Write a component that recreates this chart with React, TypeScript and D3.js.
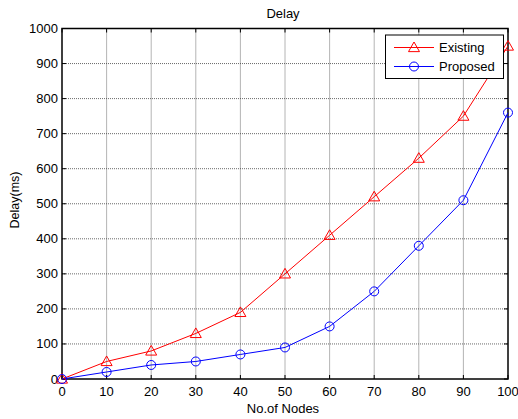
import { useEffect, useRef } from "react";
import * as d3 from "d3";

const nodes = [0, 10, 20, 30, 40, 50, 60, 70, 80, 90, 100];
const existing = [0, 50, 80, 130, 190, 300, 410, 520, 630, 750, 950];
const proposed = [0, 20, 40, 50, 70, 90, 150, 250, 380, 510, 760];
const yTicks = [0, 100, 200, 300, 400, 500, 600, 700, 800, 900, 1000];

export default function App() {
  const ref = useRef<SVGSVGElement>(null);
  const width = 518;
  const height = 419;
  const left = 62, right = 508, top = 28.5, bottom = 379;

  useEffect(() => {
    const svg = d3.select(ref.current);
    svg.selectAll("*").remove();
    const x = d3.scaleLinear().domain([0, 100]).range([left, right]);
    const y = d3.scaleLinear().domain([0, 1000]).range([bottom, top]);
    const font = "Arial, 'Liberation Sans', sans-serif";

    svg.append("rect").attr("width", width).attr("height", height).attr("fill", "#fff");

    // grid
    const grid = svg.append("g").attr("stroke", "#444").attr("stroke-width", 0.8).attr("stroke-dasharray", "1,1");
    nodes.slice(1, -1).forEach(v => {
      grid.append("line").attr("x1", x(v)).attr("x2", x(v)).attr("y1", top).attr("y2", bottom);
    });
    yTicks.slice(1, -1).forEach(v => {
      grid.append("line").attr("x1", left).attr("x2", right).attr("y1", y(v)).attr("y2", y(v));
    });

    // ticks inside, on all sides
    const ticks = svg.append("g").attr("stroke", "#000").attr("stroke-width", 1);
    nodes.forEach(v => {
      ticks.append("line").attr("x1", x(v)).attr("x2", x(v)).attr("y1", bottom).attr("y2", bottom - 4);
      ticks.append("line").attr("x1", x(v)).attr("x2", x(v)).attr("y1", top).attr("y2", top + 4);
    });
    yTicks.forEach(v => {
      ticks.append("line").attr("x1", left).attr("x2", left + 4).attr("y1", y(v)).attr("y2", y(v));
      ticks.append("line").attr("x1", right).attr("x2", right - 4).attr("y1", y(v)).attr("y2", y(v));
    });

    svg.append("rect").attr("x", left).attr("y", top).attr("width", right - left).attr("height", bottom - top)
      .attr("fill", "none").attr("stroke", "#000").attr("stroke-width", 1.5);

    // tick labels
    svg.append("g").selectAll("text").data(nodes).join("text")
      .attr("x", d => x(d)).attr("y", bottom + 17).attr("text-anchor", "middle")
      .attr("font-family", font).attr("font-size", 13).text(d => d);
    svg.append("g").selectAll("text").data(yTicks).join("text")
      .attr("x", left - 4).attr("y", d => y(d) + 4.5).attr("text-anchor", "end")
      .attr("font-family", font).attr("font-size", 13).text(d => d);

    svg.append("text").attr("x", 283).attr("y", 18).attr("text-anchor", "middle")
      .attr("font-family", font).attr("font-size", 13).text("Delay");
    svg.append("text").attr("x", 283).attr("y", 412.5).attr("text-anchor", "middle")
      .attr("font-family", font).attr("font-size", 13).text("No.of Nodes");
    svg.append("text").attr("transform", `translate(18.5, 200) rotate(-90)`)
      .attr("text-anchor", "middle").attr("font-family", font).attr("font-size", 12.5).text("Delay(ms)");

    const tri = (cx: number, cy: number) => {
      const s = 5.5;
      return `M${cx},${cy - s} L${cx + s},${cy + s * 0.75} L${cx - s},${cy + s * 0.75} Z`;
    };

    const line = d3.line<number>().x((_, i) => x(nodes[i])).y(d => y(d));
    svg.append("path").attr("d", line(existing)).attr("fill", "none").attr("stroke", "#f00").attr("stroke-width", 1);
    svg.append("path").attr("d", line(proposed)).attr("fill", "none").attr("stroke", "#00f").attr("stroke-width", 1);
    svg.append("g").selectAll("path").data(existing).join("path")
      .attr("d", (d, i) => tri(x(nodes[i]), y(d))).attr("fill", "none").attr("stroke", "#f00");
    svg.append("g").selectAll("circle").data(proposed).join("circle")
      .attr("cx", (_, i) => x(nodes[i])).attr("cy", d => y(d)).attr("r", 4.5)
      .attr("fill", "none").attr("stroke", "#00f");

    // legend
    const lg = svg.append("g");
    lg.append("rect").attr("x", 385.5).attr("y", 35).attr("width", 118).attr("height", 43.5)
      .attr("fill", "#fff").attr("stroke", "#000").attr("stroke-width", 1);
    const items = [{ name: "Existing", color: "#f00", yy: 47.5 }, { name: "Proposed", color: "#00f", yy: 66.5 }];
    items.forEach((it, i) => {
      lg.append("line").attr("x1", 394).attr("x2", 434).attr("y1", it.yy).attr("y2", it.yy).attr("stroke", it.color);
      if (i === 0) lg.append("path").attr("d", tri(414, it.yy)).attr("fill", "none").attr("stroke", it.color);
      else lg.append("circle").attr("cx", 414).attr("cy", it.yy).attr("r", 4.5).attr("fill", "none").attr("stroke", it.color);
      lg.append("text").attr("x", 439).attr("y", it.yy + 4.5).attr("font-family", font).attr("font-size", 13).text(it.name);
    });
  }, []);

  return (
    <svg ref={ref} width={width} height={height} style={{ position: "absolute", left: 0, top: 0 }} />
  );
}
